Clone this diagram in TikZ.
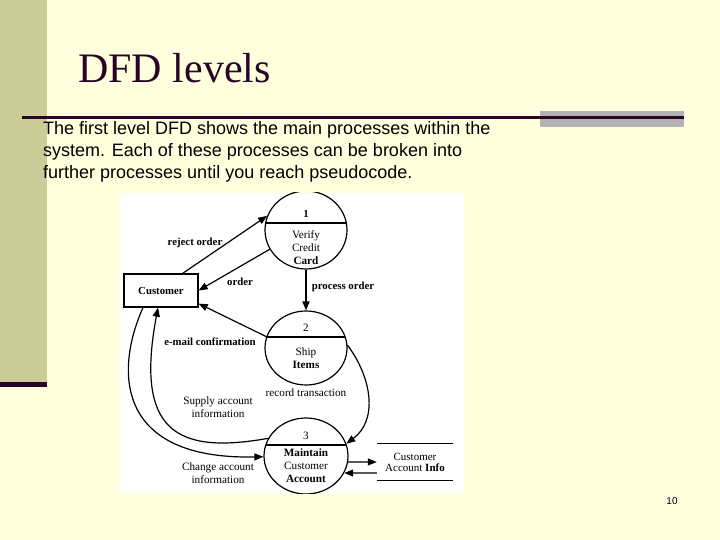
\documentclass[tikz,border=0pt]{standalone}
\usepackage{fontspec}
\setmainfont{Liberation Serif}
\newfontfamily\arialf{Liberation Sans}
\usetikzlibrary{arrows.meta,shapes.geometric,calc}
\definecolor{bgy}{RGB}{255,255,221}
\definecolor{barc}{RGB}{204,204,153}
\definecolor{darkp}{RGB}{40,4,40}
\definecolor{greyr}{RGB}{178,178,178}
\begin{document}
\begin{tikzpicture}[x=1pt,y=-1pt,
  proc/.style={draw, line width=1.2pt, ellipse, inner sep=0pt},
  lbl/.style={inner sep=0pt, font=\fontsize{11.2}{13}\selectfont, align=center},
  blbl/.style={inner sep=0pt, font=\bfseries\fontsize{10.8}{13}\selectfont, align=center},
  conn/.style={draw, line width=1.2pt, -{Triangle[length=9pt,width=7pt]}},
  bodytext/.style={anchor=base west, inner sep=0pt, font=\arialf\fontsize{18}{22}\selectfont}
]
\useasboundingbox (0,0) rectangle (720,540);
% slide background
\fill[bgy] (0,0) rectangle (720,540);
\fill[barc] (0,0) rectangle (47,382);
\fill[darkp] (0,382) rectangle (47,387);
\fill[greyr] (540,111) rectangle (684,127);
\draw[darkp, line width=3pt] (22,117.5) -- (684,117.5);
\node[anchor=base west, inner sep=0pt, text=darkp, font=\fontsize{42}{48}\selectfont] (title) at (78,83) {DFD levels};
\node[bodytext] (body1) at (43,135) {The first level DFD shows the main processes within the};
\node[bodytext] (body2) at (43,157) {system. Each of these processes can be broken into};
\node[bodytext] (body3) at (43,179) {further processes until you reach pseudocode.};
\node[inner sep=0pt, font=\arialf\fontsize{10}{12}\selectfont] (pg) at (672,501) {10};
% diagram
\fill[white] (120,193) rectangle (464,493);
\begin{scope}
\clip (120,193) rectangle (464,493);
\node[proc, minimum width=82pt, minimum height=78pt] (c1) at (306,230) {};
\node[proc, minimum width=82pt, minimum height=74pt] (c2) at (306,348) {};
\node[proc, minimum width=84pt, minimum height=76pt] (c3) at (306,456) {};
\draw[line width=1.2pt] ([shift={(-40.3,-7)}]c1.center) -- ([shift={(40.3,-7)}]c1.center);
\draw[line width=1.2pt] ([shift={(-39.1,-11)}]c2.center) -- ([shift={(39.1,-11)}]c2.center);
\draw[line width=1.2pt] ([shift={(-40.2,-11)}]c3.center) -- ([shift={(40.2,-11)}]c3.center);
\node[blbl] (c1n) at (306,214) {1};
\node[lbl] (c1t) at (306,248) {Verify\\Credit\\\textbf{Card}};
\node[lbl] (c2n) at (306,328) {2};
\node[lbl] (c2t) at (306,358.5) {Ship\\\textbf{Items}};
\node[lbl] (c3n) at (306,436) {3};
\node[lbl] (c3t) at (306,465.5) {\textbf{Maintain}\\Customer\\\textbf{Account}};
\node[draw, line width=1.2pt, minimum width=74pt, minimum height=33pt, inner sep=0pt,
      font=\bfseries\fontsize{10.8}{13}\selectfont] (cust) at (161,290.5) {Customer};
\node[minimum width=76pt, minimum height=36pt, inner sep=0pt, align=center,
      font=\fontsize{11}{11}\selectfont] (store) at (415,462) {Customer\\Account \textbf{Info}};
\draw[line width=1.2pt] (store.north west) -- (store.north east);
\draw[line width=1.2pt] (store.south west) -- (store.south east);
% connectors
\draw[conn] ([xshift=-16pt]cust.north east) -- (c1.160);
\draw[conn] (c1.208) -- (cust.east);
\draw[conn, line width=1.9pt] (c1.south) -- (c2.north);
\draw[conn] (c2.164) -- ([yshift=4pt]cust.south east);
\draw[conn] (c2.4) .. controls (372,378) and (378,420) .. (c3.17);
\draw[conn] (c3.155) .. controls (175,455) and (135,430) .. ([xshift=-3pt]cust.south);
\draw[conn] ([xshift=-18pt]cust.south) .. controls (115,370) and (115,460) .. (c3.181);
\draw[conn] (c3.-8) -- (store.west);
\draw[conn] ([yshift=-11pt]store.west) -- (c3.-24);
% labels
\node[blbl] (lreject) at (195,243) {reject order};
\node[blbl] (lorder) at (240,282) {order};
\node[blbl] (lproc) at (343,287) {process order};
\node[blbl] (lmail) at (210,342) {e-mail confirmation};
\node[lbl] (lrec) at (306,393) {record transaction};
\node[lbl] (lsupply) at (218,407) {Supply account\\information};
\node[lbl] (lchange) at (218,473.5) {Change account\\information};
\end{scope}
\end{tikzpicture}
\end{document}
